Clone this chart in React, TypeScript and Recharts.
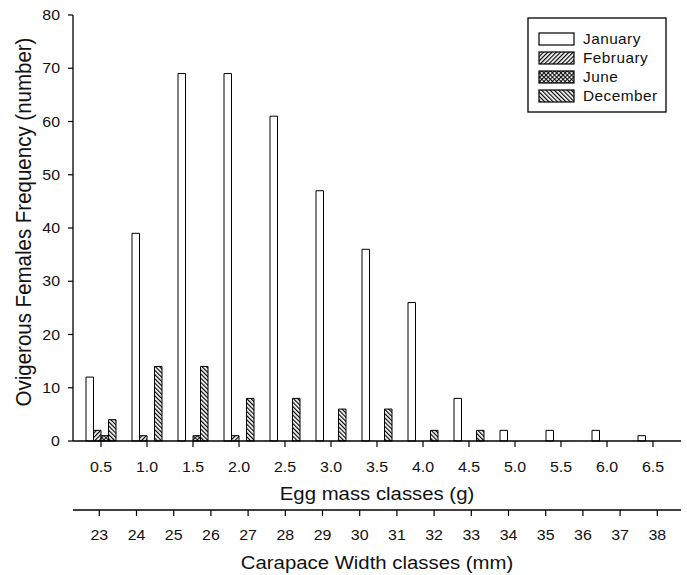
import React from 'react';
import { BarChart, Bar, XAxis, YAxis, Legend, LineChart } from 'recharts';

const eggMassClasses = ['0.5', '1.0', '1.5', '2.0', '2.5', '3.0', '3.5', '4.0', '4.5', '5.0', '5.5', '6.0', '6.5'];
const january = [12, 39, 69, 69, 61, 47, 36, 26, 8, 2, 2, 2, 1];
const february = [2, 1, 0, 1, 0, 0, 0, 0, 0, 0, 0, 0, 0];
const june = [1, 0, 1, 0, 0, 0, 0, 0, 0, 0, 0, 0, 0];
const december = [4, 14, 14, 8, 8, 6, 6, 2, 2, 0, 0, 0, 0];
const seriesNames = ['January', 'February', 'June', 'December'];
const seriesFills = ['#ffffff', 'url(#patFeb)', 'url(#patJun)', 'url(#patDec)'];
const legendFills = ['#ffffff', 'url(#lgFeb)', 'url(#lgJun)', 'url(#lgDec)'];
const yTicks = [0, 10, 20, 30, 40, 50, 60, 70, 80];
const carapaceTicks = [23, 24, 25, 26, 27, 28, 29, 30, 31, 32, 33, 34, 35, 36, 37, 38];

const data = eggMassClasses.map((c, i) => ({
  cls: c,
  January: january[i],
  February: february[i],
  June: june[i],
  December: december[i],
}));
const carapaceData = carapaceTicks.map((v) => ({ cw: v }));

const FONT = '"Liberation Sans", Arial, sans-serif';
const SX = 1.1;
const INK = '#111';

function XTick(props: any) {
  const { x, y, payload } = props;
  return (
    <text transform={`translate(${x},${y}) scale(${SX},1)`} textAnchor="middle" dy="0.71em" fontSize={14.5} fontFamily={FONT} fill={INK}>
      {payload.value}
    </text>
  );
}

function YTick(props: any) {
  const { x, y, payload } = props;
  return (
    <text transform={`translate(${x},${y}) scale(${SX},1)`} textAnchor="end" dy="0.355em" fontSize={14.5} fontFamily={FONT} fill={INK}>
      {payload.value}
    </text>
  );
}

const xTitle = (text: string, offsetFromBottom: number) => (props: any) => {
  const vb = props.viewBox;
  const cx = vb.x + vb.width / 2;
  const by = vb.y + vb.height - offsetFromBottom;
  return (
    <text transform={`translate(${cx},${by}) scale(${SX},1)`} textAnchor="middle" fontSize={18.5} fontFamily={FONT} fill={INK}>
      {text}
    </text>
  );
};

const yTitle = (props: any) => {
  const vb = props.viewBox;
  const cy = vb.y + vb.height / 2 - 6;
  return (
    <text transform={`translate(31,${cy}) scale(${SX},1) rotate(-90)`} textAnchor="middle" fontSize={20.5} fontFamily={FONT} fill={INK}>
      Ovigerous Females Frequency (number)
    </text>
  );
};

function Patterns({ prefix }: { prefix: string }) {
  return (
    <defs>
      <pattern id={`${prefix}Feb`} patternUnits="userSpaceOnUse" width={3} height={3} patternTransform="rotate(45)">
        <rect width={3} height={3} fill="#fff" />
        <line x1={0.6} y1={0} x2={0.6} y2={3} stroke="#000" strokeWidth={1.2} />
      </pattern>
      <pattern id={`${prefix}Dec`} patternUnits="userSpaceOnUse" width={3} height={3} patternTransform="rotate(-45)">
        <rect width={3} height={3} fill="#fff" />
        <line x1={0.6} y1={0} x2={0.6} y2={3} stroke="#000" strokeWidth={1.2} />
      </pattern>
      <pattern id={`${prefix}Jun`} patternUnits="userSpaceOnUse" width={3} height={3} patternTransform="rotate(45)">
        <rect width={3} height={3} fill="#fff" />
        <line x1={0.6} y1={0} x2={0.6} y2={3} stroke="#000" strokeWidth={1} />
        <line x1={0} y1={0.6} x2={3} y2={0.6} stroke="#000" strokeWidth={1} />
      </pattern>
    </defs>
  );
}

function LegendBox() {
  return (
    <svg width={141} height={97} style={{ display: 'block' }}>
      <Patterns prefix="lg" />
      <rect x={1} y={1} width={138} height={94} fill="#fff" stroke="#000" strokeWidth={1.3} />
      {seriesNames.map((name, i) => {
        const top = 16 + i * 19;
        return (
          <g key={name}>
            <rect x={12} y={top} width={35} height={12} fill={legendFills[i]} stroke="#000" strokeWidth={1.2} />
            <text transform={`translate(56,${top + 11}) scale(${SX},1)`} fontSize={14} letterSpacing={0.4} fontFamily={FONT} fill={INK}>
              {name}
            </text>
          </g>
        );
      })}
    </svg>
  );
}

export default function App() {
  return (
    <div style={{ position: 'absolute', left: 0, top: 0, width: 687, height: 575, background: '#fff' }}>
      <div style={{ position: 'absolute', left: 0, top: 0 }}>
        <BarChart
          width={687}
          height={510}
          data={data}
          margin={{ top: 15, right: 6, left: 0, bottom: 0 }}
          barGap={0}
          barSize={7.5}
        >
          <Patterns prefix="pat" />
          <XAxis
            dataKey="cls"
            height={69}
            padding={{ left: 5, right: 5 }}
            tickSize={6}
            tickMargin={15}
            interval={0}
            tick={<XTick />}
            axisLine={{ stroke: '#000', strokeWidth: 1.3 }}
            tickLine={{ stroke: '#000', strokeWidth: 1.2 }}
            label={xTitle('Egg mass classes (g)', 10)}
          />
          <XAxis
            xAxisId="top"
            orientation="top"
            dataKey="cls"
            height={0}
            tick={false}
            tickLine={false}
            axisLine={{ stroke: '#000', strokeWidth: 1.3 }}
          />
          <YAxis
            domain={[0, 80]}
            ticks={yTicks}
            interval={0}
            width={73}
            tickSize={5}
            tickMargin={8}
            tick={<YTick />}
            axisLine={{ stroke: '#000', strokeWidth: 1.3 }}
            tickLine={{ stroke: '#000', strokeWidth: 1.2 }}
            label={yTitle}
          />
          <YAxis
            yAxisId="right"
            orientation="right"
            domain={[0, 80]}
            width={0}
            tick={false}
            tickLine={false}
            axisLine={{ stroke: '#000', strokeWidth: 1.3 }}
          />
          <Legend
            layout="vertical"
            align="center"
            verticalAlign="middle"
            wrapperStyle={{ left: 527, top: 17, width: 141, height: 97 }}
            content={<LegendBox />}
          />
          {seriesNames.map((name, i) => (
            <Bar key={name} dataKey={name} name={name} fill={seriesFills[i]} stroke="#000" strokeWidth={1} isAnimationActive={false} />
          ))}
        </BarChart>
      </div>
      <div style={{ position: 'absolute', left: 0, top: 509 }}>
        <LineChart
          width={687}
          height={66}
          data={carapaceData}
          margin={{ top: 0, right: 6, left: 73, bottom: 0 }}
        >
          <XAxis
            dataKey="cw"
            type="number"
            domain={[22.293, 38.637]}
            allowDataOverflow
            ticks={carapaceTicks}
            interval={0}
            height={65}
            tickSize={6}
            tickMargin={14}
            tick={<XTick />}
            axisLine={{ stroke: '#000', strokeWidth: 1.3 }}
            tickLine={{ stroke: '#000', strokeWidth: 1.2 }}
            label={xTitle('Carapace Width classes (mm)', 6)}
          />
          <YAxis hide domain={[0, 1]} />
        </LineChart>
      </div>
    </div>
  );
}
